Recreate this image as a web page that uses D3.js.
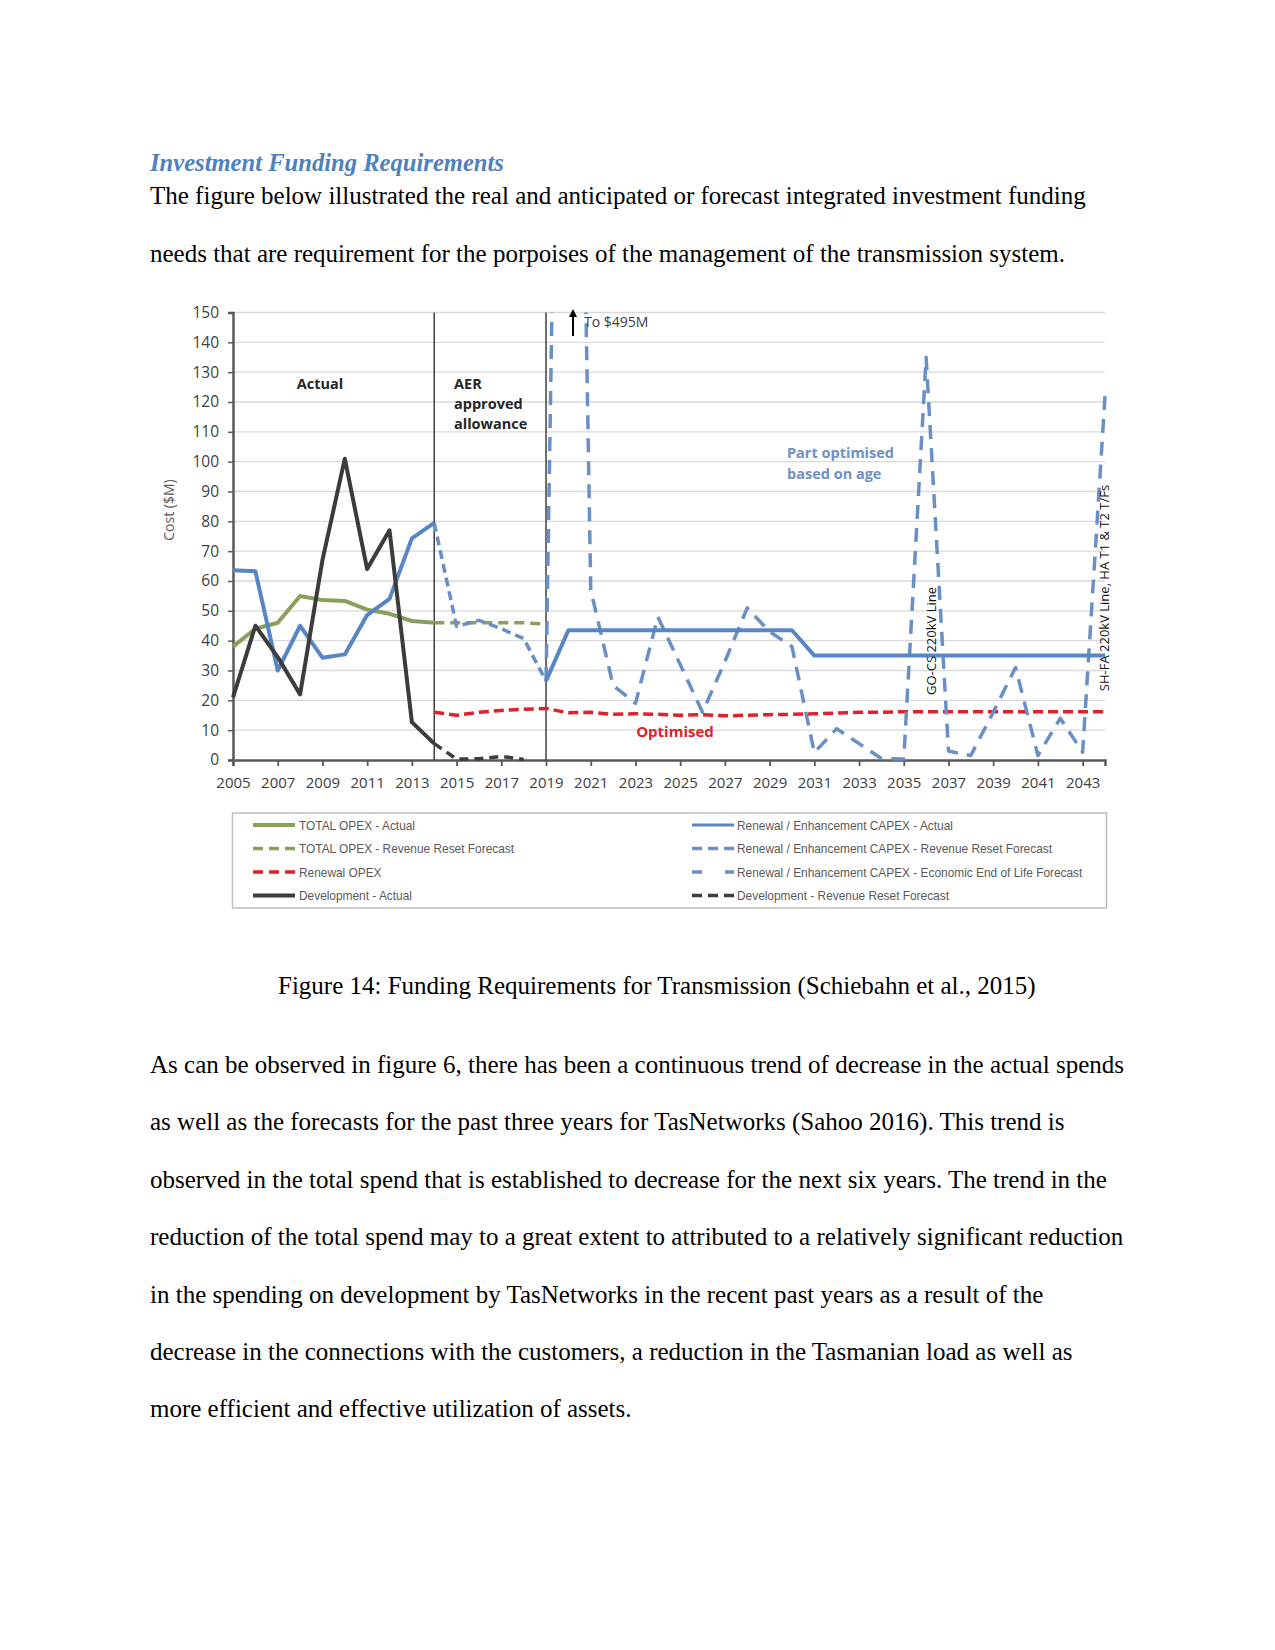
<!DOCTYPE html>
<html><head><meta charset="utf-8">
<script src="https://cdn.jsdelivr.net/npm/d3@7"></script>
<style>body{margin:0;background:#fff}svg{display:block}</style>
</head><body>
<script>
// ---------- DATA ----------
const yTicks = [0,10,20,30,40,50,60,70,80,90,100,110,120,130,140,150];
const xTickYears = [2005,2007,2009,2011,2013,2015,2017,2019,2021,2023,2025,2027,2029,2031,2033,2035,2037,2039,2041,2043];
const yearMin = 2005, yearMax = 2044;

const opexActualStart = 2005;
const opexActual = [38, 44, 46, 55, 53.6, 53.3, 50.4, 49, 46.6, 46];
const opexForecastStart = 2014;
const opexForecast = [46, 46, 46, 46, 46, 45.5];
const renewalOpexStart = 2014;
const renewalOpex = [16, 15, 16, 16.6, 17, 17.3, 15.8, 16, 15.3, 15.5, 15.3, 15, 15.2, 14.8, 15, 15.2, 15.3, 15.5, 15.7, 16, 16, 16.2, 16.2, 16.2, 16.2, 16.2, 16.2, 16.2, 16.2, 16.2, 16.2];
const devActualStart = 2005;
const devActual = [21, 45, 34.5, 22, 67, 101, 64, 77, 12.7, 5.5];
const devForecastStart = 2014;
const devForecast = [5.5, 0.3, 0.4, 1.2, 0.2];
const capexActualStart = 2005;
const capexActual = [63.6, 63.3, 30, 45, 34.3, 35.4, 48.6, 54, 74.3, 79.5];
const capexForecastStart = 2014;
const capexForecast = [79.5, 44.8, 46.8, 44, 40.7, 26.5];
const capexPlanStart = 2019;
const capexPlan = [26.5, 43.5, 43.5, 43.5, 43.5, 43.5, 43.5, 43.5, 43.5, 43.5, 43.5, 43.5, 35, 35, 35, 35, 35, 35, 35, 35, 35, 35, 35, 35, 35, 35];
const eolStart = 2019;
const eolForecast = [26.5, 495, 57, 25, 19, 48, 32, 16, 33, 51, 43, 38, 2.5, 10.5, 5.5, 0.5, 0.3, 135, 3, 1.5, 16, 31, 1.5, 14, 2.6, 122];
const separatorYears = [2014, 2019];

const legendLeft = ["TOTAL OPEX - Actual", "TOTAL OPEX - Revenue Reset Forecast", "Renewal OPEX", "Development - Actual"];
const legendRight = ["Renewal / Enhancement CAPEX - Actual", "Renewal / Enhancement CAPEX - Revenue Reset Forecast", "Renewal / Enhancement CAPEX - Economic End of Life Forecast", "Development - Revenue Reset Forecast"];

const heading = "Investment Funding Requirements";
const introLines = ["The figure below illustrated the real and anticipated or forecast integrated investment funding",
  "needs that are requirement for the porpoises of the management of the transmission system."];
const caption = "Figure 14: Funding Requirements for Transmission (Schiebahn et al., 2015)";
const bodyLines = ["As can be observed in figure 6, there has been a continuous trend of decrease in the actual spends",
  "as well as the forecasts for the past three years for TasNetworks (Sahoo 2016). This trend is",
  "observed in the total spend that is established to decrease for the next six years. The trend in the",
  "reduction of the total spend may to a great extent to attributed to a relatively significant reduction",
  "in the spending on development by TasNetworks in the recent past years as a result of the",
  "decrease in the connections with the customers, a reduction in the Tasmanian load as well as",
  "more efficient and effective utilization of assets."];

// ---------- PAGE ----------
const W = 1275, H = 1650;
const svg = d3.select("body").append("svg").attr("width", W).attr("height", H);
svg.append("rect").attr("width", W).attr("height", H).attr("fill", "#fff");
const serif = "'Liberation Serif','Times New Roman',serif";
const sans = "'Open Sans','Liberation Sans',sans-serif";
const narrow = "'Liberation Sans Narrow','Arial Narrow','Liberation Sans',sans-serif";

svg.append("text").attr("x", 150).attr("y", 170.5).attr("font-family", serif).attr("font-size", 24.6)
  .attr("font-style", "italic").attr("font-weight", "bold").attr("fill", "#4f81bd").text(heading);
introLines.forEach((t, i) => svg.append("text").attr("x", 150).attr("y", 204 + i * 57.5)
  .attr("font-family", serif).attr("font-size", 25).attr("fill", "#000").text(t));
svg.append("text").attr("x", 278).attr("y", 993.5).attr("font-family", serif).attr("font-size", 25).attr("fill", "#000").text(caption);
bodyLines.forEach((t, i) => svg.append("text").attr("x", 150).attr("y", 1073 + i * 57.4)
  .attr("font-family", serif).attr("font-size", 25).attr("fill", "#000").text(t));

// ---------- CHART ----------
const x = d3.scaleLinear().domain([yearMin, yearMax]).range([233, 1105]);
const y = d3.scaleLinear().domain([0, 150]).range([760, 312.5]);
const g = svg.append("g");

// grid
g.selectAll(".grid").data(yTicks.filter(d => d > 0)).join("line")
  .attr("x1", x(yearMin)).attr("x2", x(yearMax)).attr("y1", d => y(d)).attr("y2", d => y(d))
  .attr("stroke", "#d9d9d9").attr("stroke-width", 1.3);

// y axis labels
const yAxis = d3.axisLeft(y).tickValues(yTicks).tickSize(5).tickPadding(9);
const ya = g.append("g").attr("transform", `translate(${x(yearMin)},0)`).call(yAxis);
ya.select(".domain").attr("stroke", "#595959").attr("stroke-width", 2.5);
ya.selectAll(".tick line").attr("stroke", "#595959").attr("stroke-width", 1.5);
ya.selectAll(".tick text").attr("font-family", sans).attr("font-size", 15.5).attr("fill", "#404040");

// x axis
const xAxis = d3.axisBottom(x).tickValues(xTickYears).tickFormat(d3.format("d")).tickSize(6).tickPadding(11);
const xa = g.append("g").attr("transform", `translate(0,${y(0)})`).call(xAxis);
xa.select(".domain").attr("stroke", "#595959").attr("stroke-width", 2.5);
xa.selectAll(".tick line").attr("stroke", "#595959").attr("stroke-width", 1.8);
xa.selectAll(".tick text").attr("font-family", sans).attr("font-size", 15).attr("fill", "#404040");

g.append("text").attr("transform", "translate(168,510) rotate(-90)").attr("text-anchor", "middle")
  .attr("dominant-baseline", "central").attr("font-family", sans).attr("font-size", 14).attr("fill", "#595959").text("Cost ($M)");

// separators
g.selectAll(".sep").data(separatorYears).join("line")
  .attr("x1", d => x(d)).attr("x2", d => x(d)).attr("y1", y(150)).attr("y2", y(0))
  .attr("stroke", "#404040").attr("stroke-width", 1.5);

// clip
svg.append("defs").append("clipPath").attr("id", "plotclip").append("rect")
  .attr("x", x(yearMin) - 5).attr("y", y(150)).attr("width", x(yearMax) - x(yearMin) + 10).attr("height", y(0) - y(150) + 5);

const pts = (start, arr) => arr.map((v, i) => [start + i, v]);
const line = d3.line().x(d => x(d[0])).y(d => y(d[1]));
const lines = g.append("g").attr("clip-path", "url(#plotclip)");
function draw(data, color, width, dash) {
  lines.append("path").datum(data).attr("d", line).attr("fill", "none").attr("stroke", color)
    .attr("stroke-width", width).attr("stroke-dasharray", dash || null).attr("stroke-linejoin", "round");
}
const cGreen = "#8aa05a", cBlue = "#5886c4", cBlueD = "#6a8fc6", cRed = "#e0202b", cDark = "#3c3c3c";
draw(pts(opexActualStart, opexActual), cGreen, 4);
draw(pts(opexForecastStart, opexForecast), cGreen, 3.5, "10,6");
draw(pts(renewalOpexStart, renewalOpex), cRed, 3.5, "10,5");
draw(pts(eolStart, eolForecast), cBlueD, 3.5, "14,9");
draw(pts(capexForecastStart, capexForecast), cBlueD, 3.5, "9,5");
draw(pts(capexActualStart, capexActual), cBlue, 4);
draw(pts(capexPlanStart, capexPlan), cBlue, 4);
draw(pts(devForecastStart, devForecast), cDark, 3.5, "9,6");
draw(pts(devActualStart, devActual), cDark, 4);

// annotations
const ann = g.append("g").attr("font-family", sans);
ann.append("text").attr("x", 320).attr("y", 389).attr("text-anchor", "middle").attr("font-weight", "bold")
  .attr("font-size", 14.5).attr("fill", "#262626").text("Actual");
["AER", "approved", "allowance"].forEach((t, i) => ann.append("text").attr("x", 454).attr("y", 389 + i * 20)
  .attr("font-weight", "bold").attr("font-size", 14.5).attr("fill", "#262626").text(t));
["Part optimised", "based on age"].forEach((t, i) => ann.append("text").attr("x", 787).attr("y", 458 + i * 21)
  .attr("font-weight", "bold").attr("font-size", 14.5).attr("fill", "#6f90c4").text(t));
ann.append("text").attr("x", 675).attr("y", 737).attr("text-anchor", "middle").attr("font-weight", "bold")
  .attr("font-size", 15).attr("fill", "#e0202b").text("Optimised");
// arrow
svg.select("defs").append("marker").attr("id", "arr").attr("viewBox", "0 0 10 10").attr("refX", 5).attr("refY", 5)
  .attr("markerWidth", 4).attr("markerHeight", 4).attr("orient", "auto")
  .append("path").attr("d", "M0,0 L10,5 L0,10 z").attr("fill", "#000");
ann.append("line").attr("x1", 573).attr("x2", 573).attr("y1", 336).attr("y2", 313)
  .attr("stroke", "#000").attr("stroke-width", 2).attr("marker-end", "url(#arr)");
ann.append("text").attr("x", 584).attr("y", 327).attr("font-size", 14).attr("fill", "#404040").text("To $495M");
ann.append("text").attr("transform", "translate(931,641) rotate(-90)").attr("text-anchor", "middle")
  .attr("dominant-baseline", "central").attr("font-size", 13).attr("fill", "#111").text("GO-CS 220kV Line");
ann.append("text").attr("transform", "translate(1104,588) rotate(-90)").attr("text-anchor", "middle")
  .attr("dominant-baseline", "central").attr("font-size", 13).attr("fill", "#111").text("SH-FA 220kV Line, HA T1 & T2 T/Fs");

// legend
const lg = svg.append("g");
lg.append("rect").attr("x", 232.5).attr("y", 813).attr("width", 874).attr("height", 95)
  .attr("fill", "#fff").attr("stroke", "#bfbfbf").attr("stroke-width", 1.5);
const leftStyles = [[cGreen, null, 4], [cGreen, "10,6", 3.5], [cRed, "10,6", 3.5], [cDark, null, 4]];
const rightStyles = [[cBlue, null, 3], [cBlueD, "10,6", 3.5], [cBlueD, "10,23", 3.5], [cDark, "10,6", 3.5]];
const rowY = [825, 848.5, 872, 895.5];
function legendCol(labels, styles, x0, x1, tx) {
  labels.forEach((t, i) => {
    const [c, dash, w] = styles[i];
    lg.append("line").attr("x1", x0).attr("x2", x1).attr("y1", rowY[i]).attr("y2", rowY[i])
      .attr("stroke", c).attr("stroke-width", w).attr("stroke-dasharray", dash);
    const tn = lg.append("text").attr("x", tx).attr("y", rowY[i]).attr("dominant-baseline", "central")
      .attr("font-family", narrow).attr("font-size", 13.5).attr("fill", "#595959").text(t);
    const len = tn.node().getComputedTextLength();
    tn.attr("textLength", len * 0.88).attr("lengthAdjust", "spacingAndGlyphs");
  });
}
legendCol(legendLeft, leftStyles, 253, 295, 299);
legendCol(legendRight, rightStyles, 692, 734, 737);
</script>
</body></html>
